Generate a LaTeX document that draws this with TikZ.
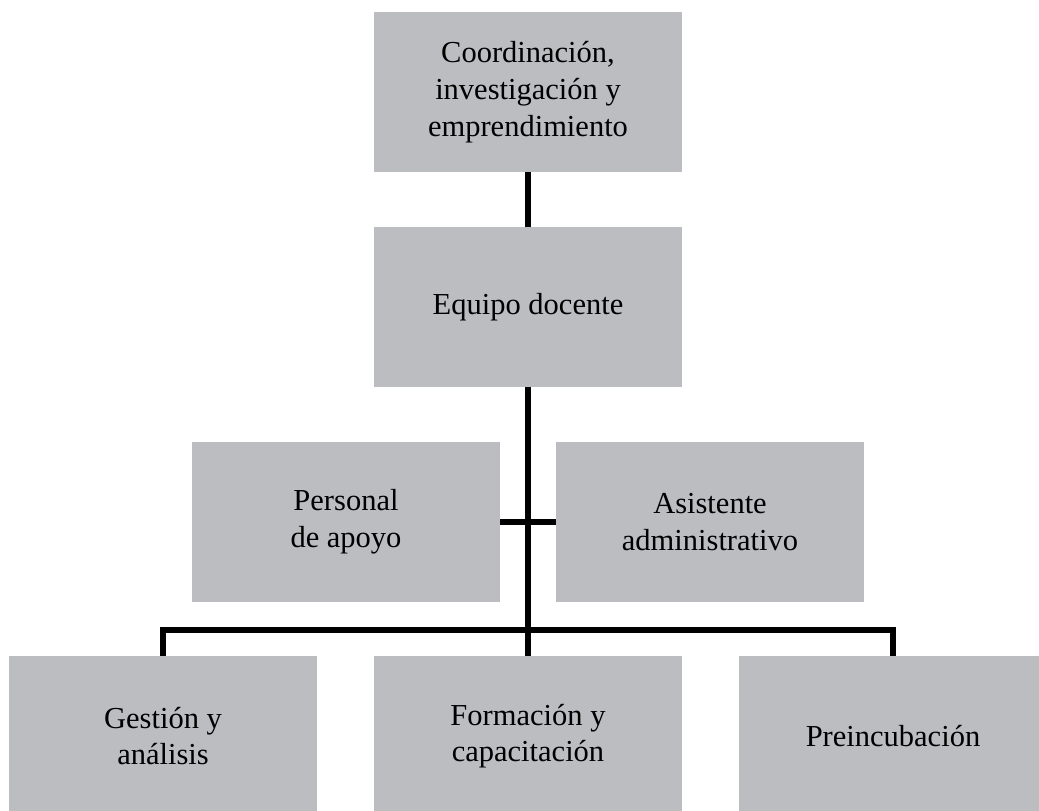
\documentclass[tikz,border=0pt]{standalone}
\usepackage{fontspec}
\setmainfont{Liberation Serif}
\usetikzlibrary{backgrounds}
\definecolor{boxgray}{HTML}{BCBDC1}
\begin{document}
\begin{tikzpicture}[x=1pt,y=-1pt,
  orgbox/.style={fill=boxgray, draw=none, minimum width=308pt, minimum height=160pt,
    inner sep=0pt, align=center, font=\fontsize{30.5}{36.7}\selectfont},
  link/.style={line width=6pt, draw=black, line join=miter}]
\useasboundingbox (0,0) rectangle (1039,811);
\clip (0,0) rectangle (1039,811);
\node[orgbox] (top) at (528,92) {Coordinación,\\investigación y\\emprendimiento};
\node[orgbox] (eq) at (528,307) {Equipo docente};
\node[orgbox] (per) at (346,522) {Personal\\de apoyo};
\node[orgbox] (asi) at (710,522) {Asistente\\administrativo};
\node[orgbox] (ges) at (163,736) {Gestión y\\análisis};
\node[orgbox] (for) at (528,736) {Formación y\\capacitación};
\node[orgbox] (pre) at (893,736) {Preincubación};
\coordinate (bus) at (528,629.5);
\begin{scope}[on background layer]
\draw[link] (top.south) -- (for.north);
\draw[link] (per.east) -- (asi.west);
\draw[link] (ges.north) |- (bus) -| (pre.north);
\end{scope}
\end{tikzpicture}
\end{document}
